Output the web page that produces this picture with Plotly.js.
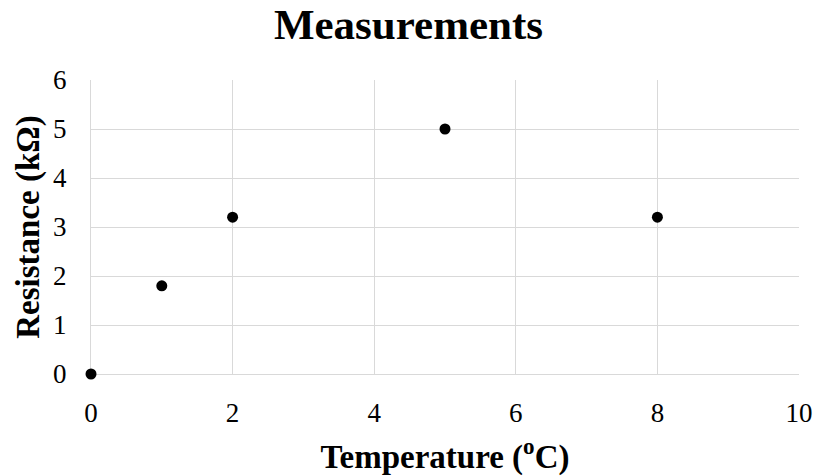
<!DOCTYPE html>
<html>
<head>
<meta charset="utf-8">
<script src="https://cdn.plot.ly/plotly-3.0.1.min.js"></script>
<style>html,body{margin:0;padding:0;background:#fff;}#chart{width:817px;height:476px;}</style>
</head>
<body>
<div id="chart"></div>
<script>
var temperature = [0, 1, 2, 5, 8];
var resistance = [0, 1.8, 3.2, 5, 3.2];
var xTickVals = [0, 2, 4, 6, 8, 10];
var yTickVals = [0, 1, 2, 3, 4, 5, 6];

var font = "'Liberation Serif', 'Times New Roman', serif";
var trace = {
  x: temperature, y: resistance, type: 'scatter', mode: 'markers',
  marker: {color: '#000', size: 11, line: {width: 0}}, cliponaxis: false, hoverinfo: 'none'
};
var layout = {
  width: 817, height: 476,
  margin: {l: 91, r: 18, t: 80, b: 102},
  paper_bgcolor: '#fff', plot_bgcolor: '#fff',
  showlegend: false,
  font: {family: font, color: '#000'},
  title: {text: '<b>Measurements</b>', font: {family: font, size: 43, color: '#000'}, x: 0.5, xanchor: 'center', y: 0.95, yanchor: 'middle'},
  xaxis: {
    range: [0, 10], tickvals: xTickVals, ticktext: xTickVals.map(String),
    showgrid: true, gridcolor: '#d9d9d9', gridwidth: 1, layer: 'below traces',
    zeroline: false, showline: true, linecolor: '#d9d9d9', linewidth: 1, mirror: false,
    ticks: 'outside', ticklen: 15, tickcolor: 'rgba(0,0,0,0)', tickfont: {family: font, size: 27, color: '#000'},
    title: {text: '<b>Temperature (<sup>o</sup>C)</b>', font: {family: font, size: 33, color: '#000'}, standoff: 25}
  },
  yaxis: {
    range: [0, 6], tickvals: yTickVals, ticktext: yTickVals.map(String),
    showgrid: true, gridcolor: '#d9d9d9', gridwidth: 1, layer: 'below traces',
    zeroline: false, showline: true, linecolor: '#d9d9d9', linewidth: 1,
    ticks: 'outside', ticklen: 18, tickcolor: 'rgba(0,0,0,0)', tickfont: {family: font, size: 27, color: '#000'},
    title: {text: '<b>Resistance (kΩ)</b>', font: {family: font, size: 33, color: '#000'}, standoff: 3}
  }
};
Plotly.newPlot('chart', [trace], layout, {displayModeBar: false, staticPlot: true});
</script>
</body>
</html>
